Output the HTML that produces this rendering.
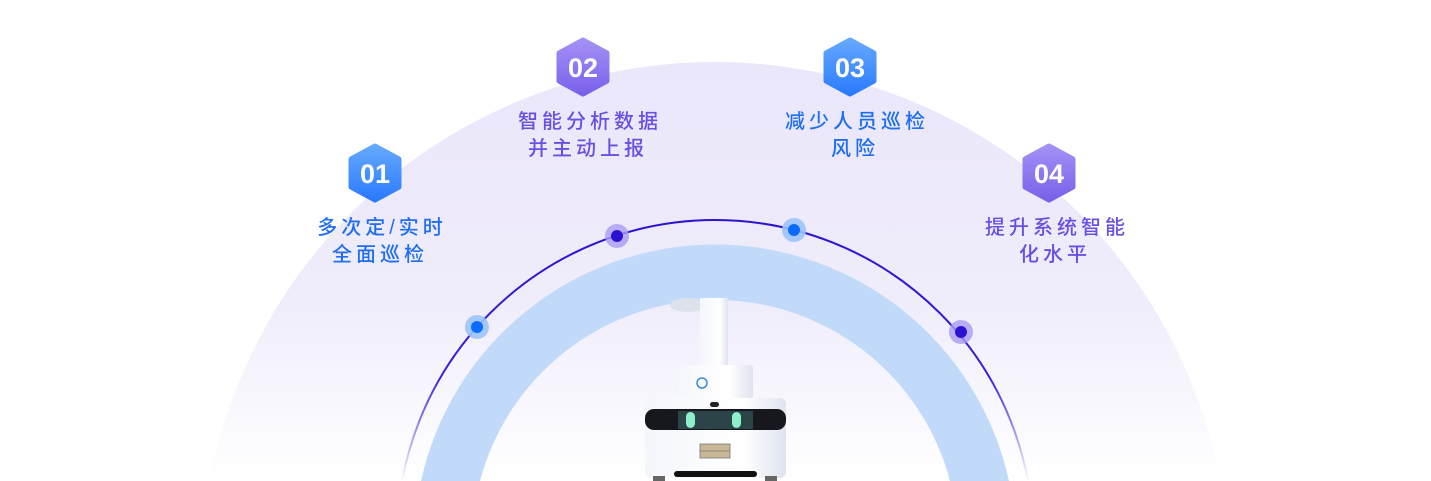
<!DOCTYPE html>
<html><head><meta charset="utf-8"><style>
html,body{margin:0;padding:0;background:#fff;width:1431px;height:481px;overflow:hidden;}
body{position:relative;font-family:"Liberation Sans","Noto Sans CJK SC",sans-serif;}
.t{position:absolute;font-size:20px;letter-spacing:4px;line-height:27px;text-align:center;width:240px;font-weight:500;text-indent:4px;}
.b{color:#1f6ff2}.p{color:#6a4fe3}
</style></head><body>
<svg width="1431" height="481" style="position:absolute;left:0;top:0;display:block">
<defs>
<linearGradient id="bg" x1="0" y1="62" x2="0" y2="481" gradientUnits="userSpaceOnUse">
<stop offset="0" stop-color="#ebe7fb"/><stop offset="0.55" stop-color="#efecfb"/><stop offset="1" stop-color="#ffffff"/></linearGradient>
<linearGradient id="ln" x1="0" y1="220" x2="0" y2="481" gradientUnits="userSpaceOnUse">
<stop offset="0" stop-color="#2a14d0"/><stop offset="0.6" stop-color="#3a24d8"/><stop offset="1" stop-color="#3a24d8" stop-opacity="0"/></linearGradient>
<linearGradient id="hb" x1="0" y1="0" x2="0" y2="1"><stop offset="0" stop-color="#65a8ff"/><stop offset="1" stop-color="#2b7bff"/></linearGradient>
<linearGradient id="hp" x1="0" y1="0" x2="0" y2="1"><stop offset="0" stop-color="#a590f6"/><stop offset="1" stop-color="#7b60ea"/></linearGradient>
<linearGradient id="rb" x1="0" y1="0" x2="1" y2="0"><stop offset="0" stop-color="#f4f6fb"/><stop offset="0.7" stop-color="#ffffff"/><stop offset="1" stop-color="#dfe3ee"/></linearGradient>
</defs>
<circle cx="715" cy="576" r="514" fill="url(#bg)"/>
<path d="M421,481 A301,301 0 0 1 1009,481 L950,481 A243,243 0 0 0 480,481 Z" fill="#c2daf9"/>
<circle cx="715" cy="538" r="318" fill="none" stroke="url(#ln)" stroke-width="2"/>
<ellipse cx="688" cy="305" rx="18" ry="7" fill="#dde2ea"/>
<rect x="700" y="298" width="28" height="70" fill="url(#rb)"/>
<rect x="674" y="365" width="79" height="36" rx="3" fill="url(#rb)"/>
<rect x="645" y="398" width="141" height="80" rx="6" fill="url(#rb)"/>
<rect x="645" y="409" width="141" height="21" rx="9" fill="#16181d"/>
<rect x="678" y="411" width="75" height="18" fill="#2a4448"/>
<rect x="686" y="412" width="9" height="16" rx="4.5" fill="#8ef0c8"/>
<rect x="732" y="412" width="9" height="16" rx="4.5" fill="#8ef0c8"/>
<rect x="710" y="402" width="9" height="5" rx="2.5" fill="#222"/>
<rect x="700" y="444" width="30" height="14" fill="#c9b797" stroke="#777" stroke-width="0.8"/>
<line x1="700" y1="451" x2="730" y2="451" stroke="#777" stroke-width="0.8"/>
<rect x="674" y="471" width="83" height="6" rx="3" fill="#111"/>
<rect x="653" y="476" width="12" height="5" fill="#666"/><rect x="765" y="476" width="12" height="5" fill="#666"/>
<circle cx="702" cy="383" r="5" fill="none" stroke="#3a8ad8" stroke-width="1.5"/>
<circle cx="617" cy="236" r="12" fill="#a99cf0" opacity="0.8"/><circle cx="617" cy="236" r="6" fill="#2a14d0"/>
<circle cx="794" cy="230" r="12" fill="#9cc3fb" opacity="0.9"/><circle cx="794" cy="230" r="6" fill="#0a6cff"/>
<circle cx="477" cy="327" r="12" fill="#9cc3fb" opacity="0.9"/><circle cx="477" cy="327" r="6" fill="#0a6cff"/>
<circle cx="961" cy="332" r="12" fill="#a99cf0" opacity="0.8"/><circle cx="961" cy="332" r="6" fill="#2a14d0"/>
<g font-family="Liberation Sans" font-weight="bold" font-size="27" fill="#fff" text-anchor="middle">
<polygon points="375,146 399,159 399,187 375,200 351,187 351,159" fill="url(#hb)" stroke="url(#hb)" stroke-width="5" stroke-linejoin="round"/>
<text x="375" y="183">01</text>
<polygon points="583,40 607,53 607,81 583,94 559,81 559,53" fill="url(#hp)" stroke="url(#hp)" stroke-width="5" stroke-linejoin="round"/>
<text x="583" y="77">02</text>
<polygon points="850,40 874,53 874,81 850,94 826,81 826,53" fill="url(#hb)" stroke="url(#hb)" stroke-width="5" stroke-linejoin="round"/>
<text x="850" y="77">03</text>
<polygon points="1049,146 1073,159 1073,187 1049,200 1025,187 1025,159" fill="url(#hp)" stroke="url(#hp)" stroke-width="5" stroke-linejoin="round"/>
<text x="1049" y="183">04</text>
</g>
</svg>
<div class="t b" style="left:260px;top:215px">多次定/实时<br>全面巡检</div>
<div class="t p" style="left:468px;top:109px">智能分析数据<br>并主动上报</div>
<div class="t b" style="left:735px;top:109px">减少人员巡检<br>风险</div>
<div class="t p" style="left:935px;top:215px">提升系统智能<br>化水平</div>
</body></html>
